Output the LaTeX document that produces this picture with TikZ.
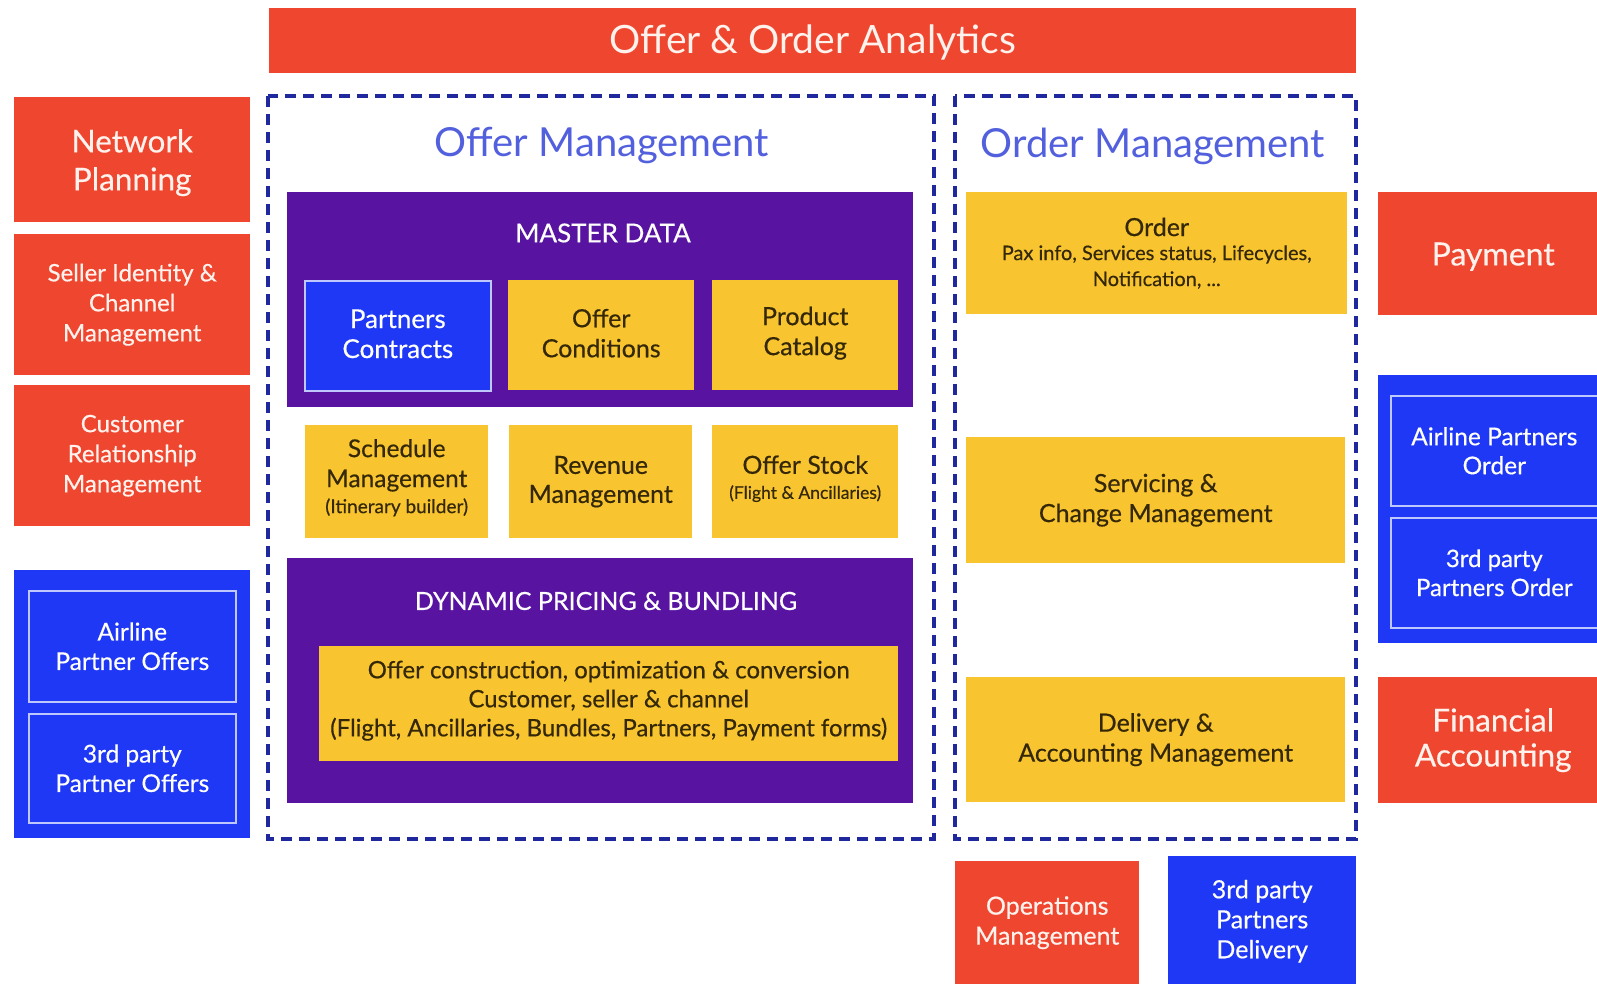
\documentclass[tikz,border=0pt]{standalone}
\usepackage{fontspec}
\setmainfont{Lato}[FakeBold=0.45]
\newfontfamily\plainfont{Lato}
\definecolor{cred}{RGB}{239,70,48}
\definecolor{cpurple}{RGB}{88,20,160}
\definecolor{cyellow}{RGB}{248,196,48}
\definecolor{cblue}{RGB}{30,56,245}
\definecolor{cdash}{RGB}{32,40,158}
\definecolor{ctitle}{RGB}{82,96,222}
\definecolor{cdark}{RGB}{52,40,8}
\definecolor{clight}{RGB}{255,242,236}
\definecolor{cframe}{RGB}{190,200,255}
\tikzset{
  blk/.style={anchor=north west, inner sep=0pt, align=center},
  redbox/.style={blk, fill=cred, text=clight},
  bluebox/.style={blk, fill=cblue, text=white},
  framed/.style={blk, draw=cframe, line width=1.6pt, fill=cblue, text=white},
  yelbox/.style={blk, fill=cyellow, text=cdark},
  purbox/.style={blk, fill=cpurple},
  lbl/.style={inner sep=0pt, align=center},
  zone/.style={draw=cdash, line width=3.5pt, dash pattern=on 11pt off 7pt},
  fs/.style 2 args={font=\fontsize{#1}{#2}\selectfont},
  ztitle/.style={text=ctitle, font=\plainfont\fontsize{40}{48}\selectfont},
}
\newcommand{\fsz}[3]{{\fontsize{#1}{#2}\selectfont #3}}
\begin{document}
\begin{tikzpicture}[x=1pt,y=-1pt]
\useasboundingbox (0,0) rectangle (1597,984);
\clip (0,0) rectangle (1597,984);
\fill[white] (0,0) rectangle (1597,984);

% analytics banner
\node[redbox, minimum width=1087pt, minimum height=65pt] (ana) at (269,8) {};
\node[lbl, text=clight, font=\plainfont\fontsize{39}{46}\selectfont, yshift=-2pt] (anat) at (ana.center) {Offer \& Order Analytics};

% left column
\node[redbox, minimum width=236pt, minimum height=125pt] (np) at (14,97) {};
\node[lbl, text=clight, fs={31.5}{38}, yshift=-3pt] (npt) at (np.center) {Network\\Planning};
\node[redbox, minimum width=236pt, minimum height=141pt, fs={24}{30}] (sic) at (14,234) {Seller Identity \&\\Channel\\Management};
\node[redbox, minimum width=236pt, minimum height=141pt, fs={24}{30}] (crm) at (14,385) {Customer\\Relationship\\Management};
\node[bluebox, minimum width=236pt, minimum height=268pt] (lgrp) at (14,570) {};
\node[framed, minimum width=207pt, minimum height=111pt, fs={24.5}{29.5}] (apo) at (28,590) {Airline\\Partner Offers};
\node[framed, minimum width=207pt, minimum height=109pt, fs={24.5}{29.5}] (tpo) at (28,713) {3rd party\\Partner Offers};

% offer management zone
\draw[zone] (268,96) rectangle (934,839);
\node[ztitle] (omt) at (602,146) {Offer Management};
\node[purbox, minimum width=626pt, minimum height=215pt] (md) at (287,192) {};
\node[text=white, fs={26}{30}] (mdt) at (603,233) {MASTER DATA};
\node[framed, minimum width=186pt, minimum height=110pt] (pc) at (304,280) {};
\node[lbl, text=white, fs={26}{30}, yshift=2pt] (pct) at (pc.center) {Partners\\Contracts};
\node[yelbox, minimum width=186pt, minimum height=110pt] (oc) at (508,280) {};
\node[lbl, text=cdark, fs={25}{30}, yshift=2pt] (oct) at (oc.center) {Offer\\Conditions};
\node[yelbox, minimum width=186pt, minimum height=110pt] (pcat) at (712,280) {};
\node[lbl, text=cdark, fs={25}{30}, yshift=2pt] (pcatt) at (pcat.center) {Product\\Catalog};
\node[yelbox, minimum width=183pt, minimum height=113pt] (sm) at (305,425) {};
\node[lbl, text=cdark, fs={24.5}{30}, yshift=4pt] (smt) at (sm.center) {Schedule\\Management\\[-4pt]\fsz{19}{24}{(Itinerary builder)}};
\node[yelbox, minimum width=183pt, minimum height=113pt, fs={25}{29}] (rm) at (509,425) {Revenue\\Management};
\node[yelbox, minimum width=186pt, minimum height=113pt] (os) at (712,425) {};
\node[lbl, text=cdark, fs={25}{29}, yshift=3pt] (ost) at (os.center) {Offer Stock\\[-4pt]\fsz{17.5}{22}{(Flight \& Ancillaries)}};
\node[purbox, minimum width=626pt, minimum height=245pt] (dp) at (287,558) {};
\node[text=white, fs={25}{30}] (dpt) at (606,601) {DYNAMIC PRICING \& BUNDLING};
\node[yelbox, minimum width=579pt, minimum height=115pt] (oco) at (319,646) {};
\node[lbl, text=cdark, fs={24}{29}, yshift=3pt] (ocot) at (oco.center) {Offer construction, optimization \& conversion\\Customer, seller \& channel\\(Flight, Ancillaries, Bundles, Partners, Payment forms)};

% order management zone
\draw[zone] (955,96) rectangle (1356,839);
\node[ztitle] (ordt) at (1153,146) {Order Management};
\node[yelbox, minimum width=381pt, minimum height=122pt, fs={25}{30}] (ord) at (966,192) {Order\\[-6pt]\fsz{20}{24}{Pax info, Services status, Lifecycles,}\\[-4pt]\fsz{20}{24}{Notification, ...}};
\node[yelbox, minimum width=379pt, minimum height=126pt, fs={25}{30}] (svc) at (966,437) {Servicing \&\\Change Management};
\node[yelbox, minimum width=379pt, minimum height=125pt, fs={25}{30}] (del) at (966,677) {Delivery \&\\Accounting Management};

% right column
\node[redbox, minimum width=230pt, minimum height=123pt] (pay) at (1378,192) {};
\node[lbl, text=clight, fs={32}{38}, yshift=-3pt] (payt) at (pay.center) {Payment};
\node[bluebox, minimum width=230pt, minimum height=268pt] (rgrp) at (1378,375) {};
\node[framed, minimum width=207pt, minimum height=110pt, fs={24.5}{29}] (apord) at (1390,395) {Airline Partners\\Order};
\node[framed, minimum width=207pt, minimum height=110pt, fs={24}{29}] (tpord) at (1390,517) {3rd party\\Partners Order};
\node[redbox, minimum width=230pt, minimum height=126pt, fs={31.5}{35}] (fin) at (1378,677) {Financial\\Accounting};

% bottom row
\node[redbox, minimum width=184pt, minimum height=123pt, fs={25}{30}] (ops) at (955,861) {Operations\\Management};
\node[bluebox, minimum width=188pt, minimum height=130pt, fs={25}{30}] (tpd) at (1168,856) {3rd party\\Partners\\Delivery};
\end{tikzpicture}
\end{document}
